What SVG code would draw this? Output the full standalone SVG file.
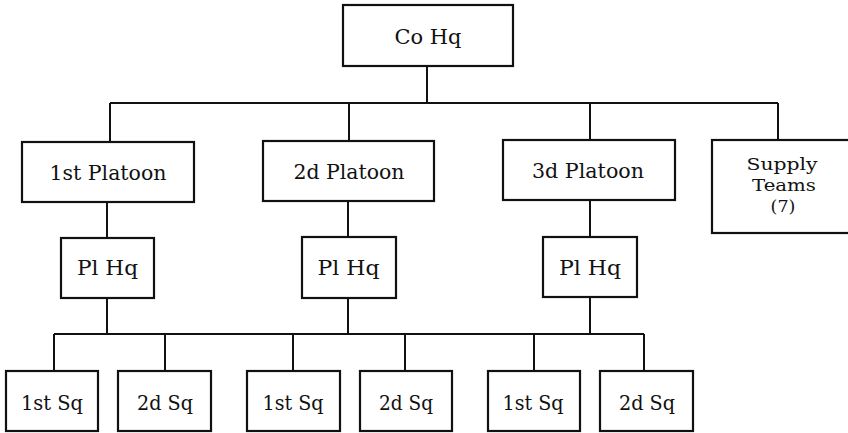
<svg xmlns="http://www.w3.org/2000/svg" width="848" height="433" viewBox="0 0 848 433">
<style>
.box{fill:#fff;stroke:#111;stroke-width:2.2}
.ln{fill:none;stroke:#111;stroke-width:2}
text{font-family:"DejaVu Serif","Liberation Serif",serif;font-size:20px;fill:#111;text-anchor:middle}
.sm{font-size:17.5px}
</style>
<rect width="848" height="433" fill="#fff"/>
<g id="connectors">
<path class="ln" d="M427 66V103M110 103H778M110 103V142M349 103V141M590 103V140M778 103V140"/>
<path class="ln" d="M107 202V238M348 201V237M590 200V237"/>
<path class="ln" d="M107 298V334M348 298V334M590 297V334M54 334H644M54 334V371M165 334V371M293 334V371M405 334V371M534 334V371M644 334V371"/>
</g>
<g id="coHq"><rect class="box" x="343" y="5" width="170" height="61"/><text x="428" y="44" textLength="67" lengthAdjust="spacingAndGlyphs">Co Hq</text></g>
<g id="platoon1"><rect class="box" x="22" y="142" width="172" height="60"/><text x="108" y="180" textLength="117" lengthAdjust="spacingAndGlyphs">1st Platoon</text></g>
<g id="platoon2"><rect class="box" x="263" y="141" width="171" height="60"/><text x="349" y="179" textLength="111" lengthAdjust="spacingAndGlyphs">2d Platoon</text></g>
<g id="platoon3"><rect class="box" x="503" y="140" width="172" height="60"/><text x="588" y="178" textLength="112" lengthAdjust="spacingAndGlyphs">3d Platoon</text></g>
<g id="supply"><rect class="box" x="712" y="140" width="140" height="93"/><text class="sm" x="782" y="170" textLength="71" lengthAdjust="spacingAndGlyphs">Supply</text><text class="sm" x="784" y="191" textLength="64" lengthAdjust="spacingAndGlyphs">Teams</text><text class="sm" x="783" y="212">(7)</text></g>
<g id="plhq1"><rect class="box" x="61" y="238" width="93" height="60"/><text x="107.5" y="275" textLength="61" lengthAdjust="spacingAndGlyphs">Pl Hq</text></g>
<g id="plhq2"><rect class="box" x="302" y="237" width="94" height="61"/><text x="348.5" y="275" textLength="62" lengthAdjust="spacingAndGlyphs">Pl Hq</text></g>
<g id="plhq3"><rect class="box" x="543" y="237" width="94" height="60"/><text x="590" y="275" textLength="62" lengthAdjust="spacingAndGlyphs">Pl Hq</text></g>
<g id="sq1a"><rect class="box" x="6" y="371" width="92" height="60"/><text x="52" y="410" textLength="62" lengthAdjust="spacingAndGlyphs">1st Sq</text></g>
<g id="sq1b"><rect class="box" x="118" y="371" width="93" height="60"/><text x="165" y="410" textLength="56" lengthAdjust="spacingAndGlyphs">2d Sq</text></g>
<g id="sq2a"><rect class="box" x="247" y="371" width="93" height="60"/><text x="293" y="410" textLength="61" lengthAdjust="spacingAndGlyphs">1st Sq</text></g>
<g id="sq2b"><rect class="box" x="360" y="371" width="92" height="60"/><text x="406" y="410" textLength="54" lengthAdjust="spacingAndGlyphs">2d Sq</text></g>
<g id="sq3a"><rect class="box" x="488" y="371" width="92" height="60"/><text x="533" y="410" textLength="61" lengthAdjust="spacingAndGlyphs">1st Sq</text></g>
<g id="sq3b"><rect class="box" x="600" y="371" width="93" height="60"/><text x="647" y="410" textLength="56" lengthAdjust="spacingAndGlyphs">2d Sq</text></g>
</svg>
